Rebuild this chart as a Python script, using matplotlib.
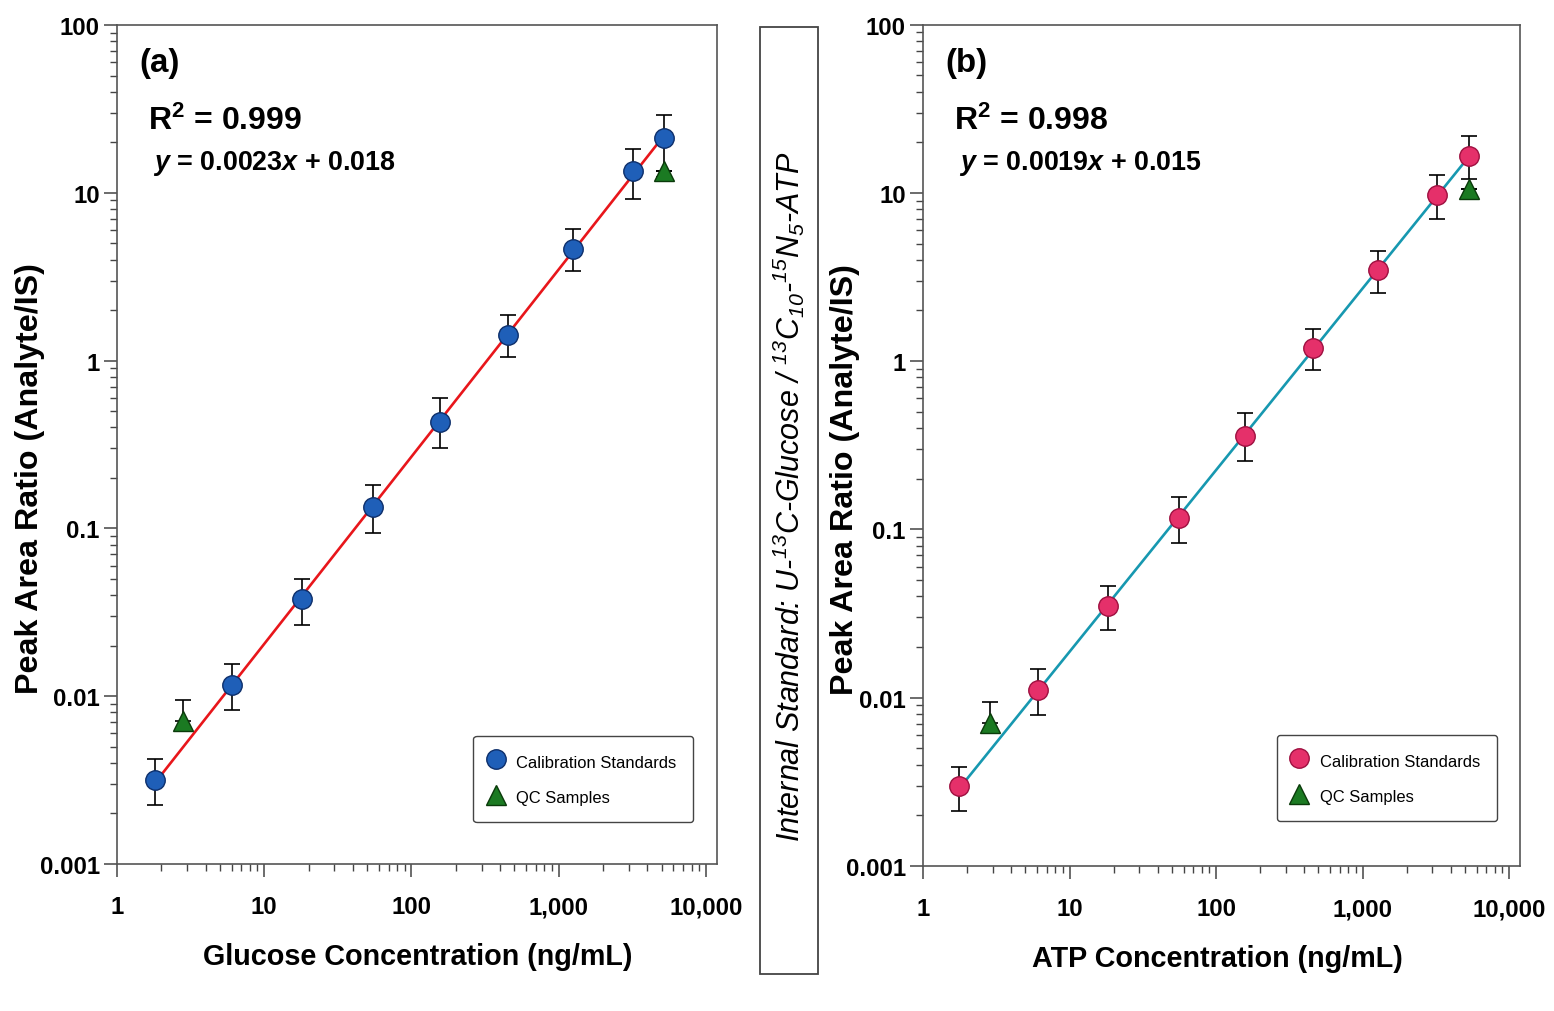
import numpy as np
import matplotlib
matplotlib.use('Agg')
import matplotlib.pyplot as plt
from matplotlib.patches import Rectangle
from matplotlib.ticker import FixedLocator, LogLocator, FuncFormatter, NullFormatter

# ---- data ----
glc_conc = [1.81, 6.04, 18.0, 54.8, 156, 452, 1250, 3190, 5190]
glc_ratio = [0.00318, 0.0116, 0.038, 0.135, 0.43, 1.42, 4.62, 13.4, 21.2]
glc_lo = [0.00226, 0.0083, 0.0266, 0.094, 0.30, 1.05, 3.42, 9.2, 12.5]
glc_hi = [0.00422, 0.0155, 0.050, 0.181, 0.60, 1.87, 6.09, 18.2, 29.2]
glc_qc_conc = [2.81, 5190]
glc_qc_ratio = [0.00716, 13.4]
glc_qc_hi = [0.0095, 13.4]

atp_conc = [1.77, 6.1, 18.3, 55.9, 158, 459, 1276, 3228, 5333]
atp_ratio = [0.00298, 0.0111, 0.0351, 0.117, 0.36, 1.20, 3.49, 9.76, 16.5]
atp_lo = [0.00212, 0.0079, 0.0252, 0.0835, 0.256, 0.89, 2.55, 7.0, 12.1]
atp_hi = [0.0039, 0.0149, 0.0461, 0.155, 0.49, 1.56, 4.52, 12.8, 21.7]
atp_qc_conc = [2.87, 5333]
atp_qc_ratio = [0.0071, 10.6]
atp_qc_hi = [0.0094, 10.6]

x_ticks = [1, 10, 100, 1000, 10000]
y_ticks = [0.001, 0.01, 0.1, 1, 10, 100]

family = 'Liberation Sans'
plt.rcParams['font.family'] = [family, 'DejaVu Sans']
plt.rcParams['mathtext.default'] = 'regular'
plt.rcParams['mathtext.fontset'] = 'custom'
plt.rcParams['mathtext.it'] = family + ':italic:bold'

fig = plt.figure(figsize=(15.54, 10.12), dpi=100)


def panel(rect, conc, ratio, lo, hi, qc_conc, qc_ratio, qc_hi,
          face, edge, line_color, tag, r2, eq, xlabel, label_x, ylabel_x, legend_anchor):
    ax = fig.add_axes(rect)
    ax.set_xscale('log'); ax.set_yscale('log')
    ax.set_xlim(1, 11900); ax.set_ylim(0.001, 100)

    # fit line (power law through calibration points)
    p = np.polyfit(np.log10(conc), np.log10(ratio), 1)
    xf = np.array([conc[0], conc[-1]])
    ax.plot(xf, 10**np.polyval(p, np.log10(xf)), color=line_color, lw=1.9, zorder=2)

    r = np.array(ratio)
    ax.errorbar(conc, ratio, yerr=[r-np.array(lo), np.array(hi)-r], fmt='none',
                ecolor='k', elinewidth=1.2, capsize=5.5, capthick=1.2, zorder=3)
    q = np.array(qc_ratio)
    ax.errorbar(qc_conc, qc_ratio, yerr=[np.zeros(len(q)), np.array(qc_hi)-q], fmt='none',
                ecolor='k', elinewidth=1.2, capsize=5.5, capthick=1.2, zorder=3)
    ax.plot(conc, ratio, 'o', ms=14, mfc=face, mec=edge, mew=1.0, ls='none',
            zorder=5, label='Calibration Standards')
    ax.plot(qc_conc, qc_ratio, '^', ms=14, mfc='#1b7a22', mec='#0a3a0a', mew=1.0, ls='none',
            zorder=4, label='QC Samples')

    ax.xaxis.set_major_locator(FixedLocator(x_ticks))
    ax.xaxis.set_minor_locator(LogLocator(base=10, subs=np.arange(2, 10)))
    ax.xaxis.set_major_formatter(FuncFormatter(lambda v, _: '{:,.0f}'.format(v)))
    ax.xaxis.set_minor_formatter(NullFormatter())
    ax.yaxis.set_major_locator(FixedLocator(y_ticks))
    ax.yaxis.set_minor_locator(LogLocator(base=10, subs=np.arange(2, 10)))
    ax.yaxis.set_major_formatter(FuncFormatter(lambda v, _: '{:g}'.format(v)))
    ax.yaxis.set_minor_formatter(NullFormatter())

    ax.tick_params(which='major', direction='out', length=9.5, width=1.1, color='#444',
                   labelsize=17.2)
    ax.tick_params(which='minor', direction='out', length=5, width=1.0, color='#444')
    ax.tick_params(axis='x', which='major', pad=13)
    ax.tick_params(axis='y', which='major', pad=3)
    for lab in ax.get_xticklabels() + ax.get_yticklabels():
        lab.set_fontweight('bold')
    for s in ax.spines.values():
        s.set_color('#555'); s.set_linewidth(1.2)

    ax.set_xlabel(xlabel, fontsize=20.7, fontweight='bold')
    ax.set_ylabel('Peak Area Ratio (Analyte/IS)', fontsize=23.2, fontweight='bold')
    ax.xaxis.set_label_coords(label_x, -0.093)
    ax.yaxis.set_label_coords(ylabel_x, 0.461)

    ax.text(0.038, 0.955, tag, transform=ax.transAxes, fontsize=23.8, fontweight='bold',
            ha='left', va='center')
    ax.text(0.052, 0.886, r2, transform=ax.transAxes, fontsize=23, fontweight='bold',
            ha='left', va='center')
    ax.text(0.06, 0.836, eq, transform=ax.transAxes, fontsize=19.4, fontweight='bold',
            ha='left', va='center')

    leg = ax.legend(loc='lower right', bbox_to_anchor=legend_anchor, fontsize=11.9,
                    frameon=True, fancybox=True, edgecolor='#444', framealpha=1,
                    borderpad=1.0, labelspacing=1.05, handleheight=1.3, handlelength=0.7,
                    handletextpad=0.9, borderaxespad=0)
    leg.get_frame().set_linewidth(1.0)
    return ax


panel([0.0753, 0.1453, 0.3861, 0.829], glc_conc, glc_ratio, glc_lo, glc_hi,
      glc_qc_conc, glc_qc_ratio, glc_qc_hi, '#1f5fb8', '#0d2f6b', '#e8161b',
      '(a)', r'R$^2$ = 0.999', r'$\mathit{y}$ = 0.0023$\mathit{x}$ + 0.018',
      'Glucose Concentration (ng/mL)', 0.501, -0.12, (0.96, 0.05))

panel([0.594, 0.1433, 0.3842, 0.8314], atp_conc, atp_ratio, atp_lo, atp_hi,
      atp_qc_conc, atp_qc_ratio, atp_qc_hi, '#e5306a', '#9e1040', '#1798b0',
      '(b)', r'R$^2$ = 0.998', r'$\mathit{y}$ = 0.0019$\mathit{x}$ + 0.015',
      'ATP Concentration (ng/mL)', 0.4925, -0.105, (0.961, 0.0535))

# middle box with the internal standard note
fig.add_artist(Rectangle((760/1554, 1-975/1012), 58/1554, 947/1012, transform=fig.transFigure,
                         fill=False, edgecolor='#444', linewidth=1.3))
fig.text(789/1554, 1-497/1012,
         r'Internal Standard: U-$^{13}$C-Glucose / $^{13}$C$_{10}$-$^{15}$N$_5$-ATP',
         rotation=90, ha='center', va='center', fontsize=22, style='italic')

fig.savefig('out.png', dpi=100)
